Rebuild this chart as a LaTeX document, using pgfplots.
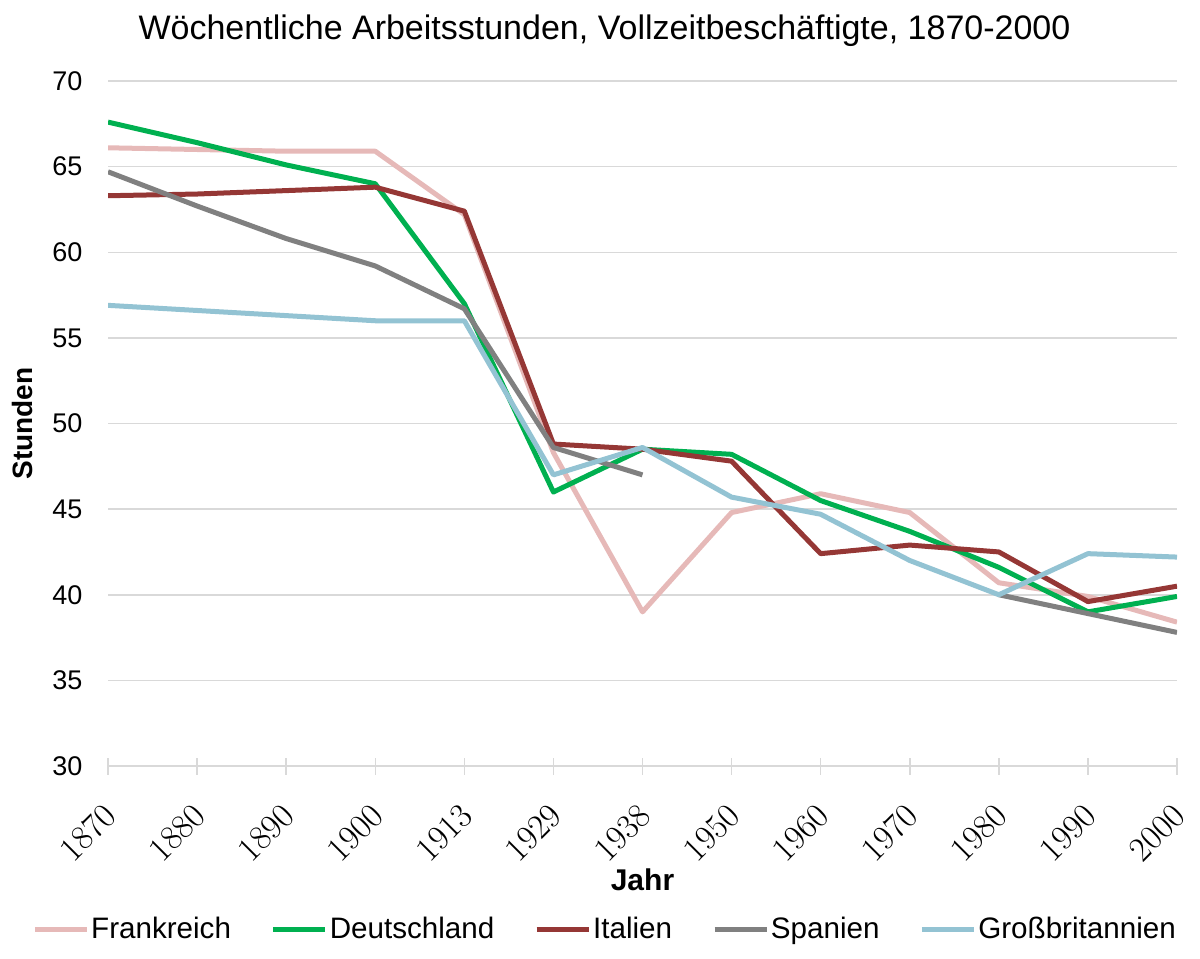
\documentclass[border=0pt]{standalone}
\usepackage{fontspec}
\setmainfont{Liberation Sans}
\usepackage{pgfplots}
\usepackage{pgfplotstable}
\pgfplotsset{compat=1.18}
\definecolor{cFR}{HTML}{E6B9B8}
\definecolor{cDE}{HTML}{00B050}
\definecolor{cIT}{HTML}{953735}
\definecolor{cES}{HTML}{808080}
\definecolor{cGB}{HTML}{93C3D3}
\definecolor{gridc}{HTML}{D9D9D9}
\pgfplotstableread{
x fr de it es gb
0 66.1 67.6 63.3 64.7 56.9
1 66.0 66.4 63.4 62.7 56.6
2 65.9 65.1 63.6 60.8 56.3
3 65.9 64.0 63.8 59.2 56.0
4 62.2 57.0 62.4 56.7 56.0
5 48.3 46.0 48.8 48.6 47.0
6 39.0 48.5 48.5 47.0 48.6
7 44.8 48.2 47.8 nan 45.7
8 45.9 45.5 42.4 nan 44.7
9 44.8 43.7 42.9 nan 42.0
10 40.7 41.6 42.5 40.0 40.0
11 39.9 39.0 39.6 38.9 42.4
12 38.4 39.9 40.5 37.8 42.2
}\data
\begin{document}
\begin{tikzpicture}
\begin{axis}[name=ax, scale only axis, width=534.5bp, height=342.5bp,
  xmin=0, xmax=12, ymin=30, ymax=70,
  xtick={0,...,12},
  xticklabels={$1870$,$1880$,$1890$,$1900$,$1913$,$1929$,$1938$,$1950$,$1960$,$1970$,$1980$,$1990$,$2000$},
  ytick={30,35,...,70},
  yticklabels={30,35,40,45,50,55,60,65,70},
  axis x line*=bottom, axis y line*=left,
  x axis line style={draw=gridc, line width=0.75bp, -},
  y axis line style={draw=none},
  ytick style={draw=none},
  xtick style={draw=gridc, line width=0.75bp},
  tick align=center, major tick length=8.5bp,
  ymajorgrids, grid style={draw=gridc, line width=0.75bp},
  unbounded coords=jump,
  xticklabel style={rotate=45, anchor=east, font=\fontsize{18bp}{18bp}\selectfont, yshift=-13.5bp, xshift=-8.5bp},
  yticklabel style={font=\fontsize{13.5bp}{16bp}\selectfont, xshift=-5bp},
  legend columns=5,
  legend cell align=left,
  legend image code/.code={\draw[#1, line width=2.4bp] (0bp,0bp) -- (26bp,0bp);},
  legend style={draw=none, fill=none, at={(axis description cs:0.465,-0.239)}, anchor=center,
    font=\fontsize{14.8bp}{18bp}\selectfont, inner sep=0pt,
    nodes={inner sep=1bp},
    /tikz/every even column/.append style={column sep=19bp}},
  every axis plot/.append style={line width=2.5bp, line join=round},
]
\addplot[cFR] table[x=x,y=fr] {\data};
\addlegendentry{Frankreich}
\addplot[cDE] table[x=x,y=de] {\data};
\addlegendentry{Deutschland}
\addplot[cIT] table[x=x,y=it] {\data};
\addlegendentry{Italien}
\addplot[cES] table[x=x,y=es] {\data};
\addlegendentry{Spanien}
\addplot[cGB] table[x=x,y=gb] {\data};
\addlegendentry{Großbritannien}
\end{axis}
\node[font=\fontsize{17bp}{20bp}\selectfont] at ([shift={(-19bp,25bp)}]ax.north) {Wöchentliche Arbeitsstunden, Vollzeitbeschäftigte, 1870-2000};
\node[rotate=90, font=\bfseries\fontsize{14bp}{16bp}\selectfont] at ([xshift=-43bp]ax.west) {Stunden};
\node[font=\bfseries\fontsize{15bp}{18bp}\selectfont] at ([yshift=-57bp]ax.south) {Jahr};
\pgfresetboundingbox
\path ([shift={(-54bp,-96.5bp)}]ax.south west) rectangle ([shift={(11.5bp,40.5bp)}]ax.north east);
\end{tikzpicture}
\end{document}
